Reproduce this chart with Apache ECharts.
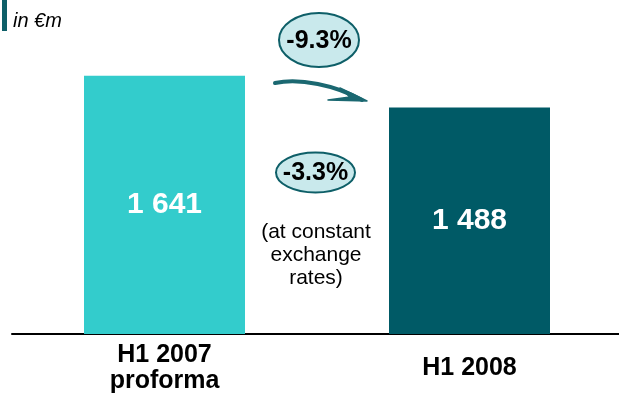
<!DOCTYPE html>
<html>
<head>
<meta charset="utf-8">
<script src="https://cdn.jsdelivr.net/npm/echarts@6/dist/echarts.min.js"></script>
<style>html,body{margin:0;padding:0;background:#fff}#c{width:619px;height:395px}</style>
</head>
<body>
<div id="c"></div>
<script>
var categories = ['H1 2007\nproforma', 'H1 2008'];
var values = [1641, 1488];
var barColors = ['#33CCCC', '#005A66'];
var unitLabel = 'in €m';
var changeReported = '-9.3%';
var changeConstant = '-3.3%';
var constantNote = '(at constant\nexchange\nrates)';

var chart = echarts.init(document.getElementById('c'), null, {renderer: 'canvas'});
var FONT = 'Liberation Sans, Arial, sans-serif';
var ellFill = '#C9E9EC';
var ellStroke = '#0E5F68';

chart.setOption({
  animation: false,
  grid: {left: 12, width: 610, top: 1, bottom: 61, containLabel: false, outerBoundsMode: 'none'},
  xAxis: {
    type: 'category',
    data: categories.map(function (c, i) {
      return i === 1 ? {value: c, textStyle: {verticalAlign: 'middle', lineHeight: 16}} : c;
    }),
    axisLine: {lineStyle: {color: '#000', width: 2}},
    axisTick: {show: false},
    axisLabel: {
      color: '#000', fontFamily: FONT, fontWeight: 'bold', fontSize: 25,
      lineHeight: 26, verticalAlign: 'middle', margin: 34, interval: 0
    }
  },
  yAxis: {
    type: 'value', min: 400, max: 2000, show: false,
    splitLine: {show: false}
  },
  series: [{
    type: 'bar',
    barWidth: 161,
    data: values.map(function (v, i) {
      return {value: v, itemStyle: {color: barColors[i]}};
    }),
    label: {
      show: true, position: 'inside', color: '#fff', fontFamily: FONT,
      fontWeight: 'bold', fontSize: 30,
      formatter: function (p) {
        return String(p.value).replace(/\B(?=(\d{3})+(?!\d))/g, ' ');
      }
    }
  }],
  graphic: [
    {type: 'rect', shape: {x: 2, y: 0, width: 5, height: 31}, style: {fill: '#0E5F68'}},
    {type: 'text', left: 13, top: 11, style: {text: unitLabel, font: 'italic 20px ' + FONT, fill: '#000'}},
    {type: 'ellipse', shape: {cx: 319, cy: 40, rx: 40, ry: 27}, style: {fill: ellFill, stroke: ellStroke, lineWidth: 2}},
    {type: 'text', x: 319, y: 41, style: {text: changeReported, font: 'bold 25px ' + FONT, fill: '#000', align: 'center', verticalAlign: 'middle'}},
    {type: 'ellipse', shape: {cx: 315.5, cy: 172.5, rx: 39.5, ry: 20}, style: {fill: ellFill, stroke: ellStroke, lineWidth: 2}},
    {type: 'text', x: 315.5, y: 173, style: {text: changeConstant, font: 'bold 25px ' + FONT, fill: '#000', align: 'center', verticalAlign: 'middle'}},
    {type: 'text', x: 316, y: 255, style: {text: constantNote, font: '21px ' + FONT, lineHeight: 23, fill: '#000', align: 'center', verticalAlign: 'middle'}},
    {type: 'bezierCurve', shape: {x1: 275, y1: 83, x2: 362, y2: 100, cpx1: 300, cpy1: 78, cpx2: 335, cpy2: 85}, style: {stroke: '#1B6871', lineWidth: 4, fill: null, lineCap: 'round'}},
    {type: 'polygon', shape: {points: [[340, 88], [367, 101], [328, 100], [350, 97]]}, style: {fill: '#1B6871', stroke: '#1B6871', lineWidth: 1.5, lineJoin: 'round'}}
  ]
});
</script>
</body>
</html>
